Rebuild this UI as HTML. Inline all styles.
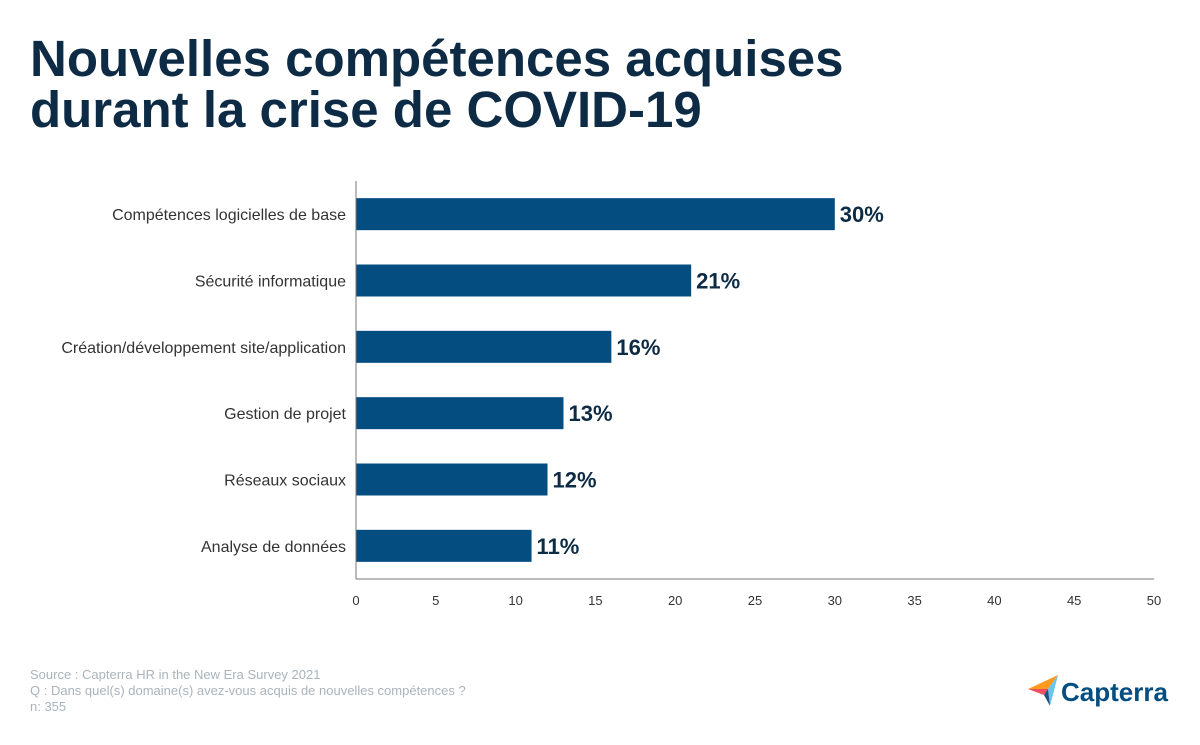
<!DOCTYPE html>
<html><head><meta charset="utf-8"><style>
body{margin:0;width:1200px;height:740px;background:#fff;overflow:hidden;font-family:"Liberation Sans",sans-serif}
</style></head><body>
<svg width="1200" height="740">
<text x="30" y="76" font-size="51" font-weight="bold" fill="#0d2b45">Nouvelles compétences acquises</text>
<text x="30" y="127" font-size="51" font-weight="bold" fill="#0d2b45">durant la crise de COVID-19</text>
<g id="plot"></g>
<text x="30" y="679" font-size="13" fill="#a9b4bc">Source : Capterra HR in the New Era Survey 2021</text>
<text x="30" y="695" font-size="13" fill="#a9b4bc">Q : Dans quel(s) domaine(s) avez-vous acquis de nouvelles compétences ?</text>
<text x="30" y="711" font-size="13" fill="#a9b4bc">n: 355</text>
<g>
<polygon points="1028,689 1058,675 1048,689" fill="#ff9a1f"/>
<polygon points="1028,689 1048,689 1044,695" fill="#ef4f5e"/>
<polygon points="1048,689 1058,675 1050,706" fill="#68c5ed"/>
<polygon points="1044,695 1048,689 1050,706" fill="#1d4f84"/>
<text x="1061" y="701" font-size="26" fill="#044d80" font-weight="bold">Capterra</text>
</g>
</svg>
<script>
const categories=["Compétences logicielles de base","Sécurité informatique","Création/développement site/application","Gestion de projet","Réseaux sociaux","Analyse de données"];
const values=[30,21,16,13,12,11];
const ticks=[0,5,10,15,20,25,30,35,40,45,50];
const NS="http://www.w3.org/2000/svg";
const g=document.getElementById('plot');
const x0=356,x1=1154,yTop=181,yBot=579;
const xs=v=>x0+(v-0)/(50-0)*(x1-x0);
const step=(yBot-yTop)/categories.length;
const yc=i=>yTop+step*(i+0.5);
function mk(t,a){const e=document.createElementNS(NS,t);for(const k in a)e.setAttribute(k,a[k]);g.appendChild(e);return e;}
categories.forEach((c,i)=>{
 const r=mk('rect',{x:x0,y:yc(i)-16,width:xs(values[i])-x0,height:32,fill:'#044d80'});
 
 
 const l=mk('text',{x:346,y:yc(i)+6,'text-anchor':'end','font-size':16,fill:'#333'});
 l.textContent=c;
 
 
 const v=mk('text',{x:xs(values[i])+5,y:yc(i)+8,'font-size':22,'font-weight':'bold',fill:'#0d2b45'});
 v.textContent=values[i]+'%';
 
 
});
const ax=mk('line',{x1:x0,y1:yTop,x2:x0,y2:yBot,stroke:'#777','stroke-width':1});


const bx=mk('line',{x1:x0,y1:yBot,x2:x1,y2:yBot,stroke:'#777','stroke-width':1});


ticks.forEach(t=>{
 const e=mk('text',{x:xs(t),y:605,'text-anchor':'middle','font-size':13,fill:'#333'});
 e.textContent=t;
 
 
});
</script>
</body></html>
